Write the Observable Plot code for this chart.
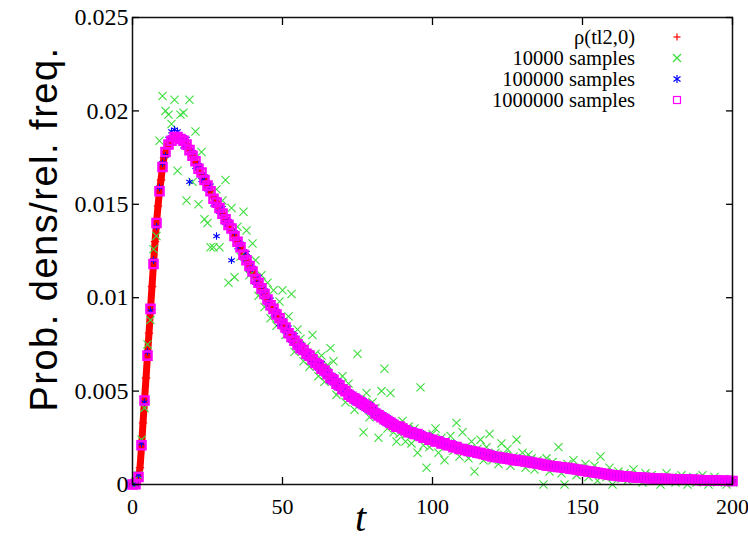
<!DOCTYPE html>
<html>
<head>
<meta charset="utf-8">
<script src="https://cdn.jsdelivr.net/npm/d3@7"></script>
<script src="https://cdn.jsdelivr.net/npm/@observablehq/plot@0.6"></script>
<style>
  html, body { margin: 0; padding: 0; background: #fff; }
  #wrap { position: relative; width: 748px; height: 542px; overflow: hidden; }
  #legend { position: absolute; top: 26px; right: 65px; font-family: "Liberation Serif", "Times New Roman", serif; font-size: 20.5px; color: #000; }
  #legend .row { display: flex; justify-content: flex-end; align-items: center; height: 21px; line-height: 20px; }
  #legend svg { margin-left: 36px; }
</style>
</head>
<body>
<div id="wrap"><div id="chart"></div><div id="legend"></div></div>
<script>
// ---- data ----
const xTicks = [0, 50, 100, 150, 200];
const xTickLabels = ["0", "50", "100", "150", "200"];
const yTicks = [0, 0.005, 0.01, 0.015, 0.02, 0.025];
const yTickLabels = ["0", "0.005", "0.01", "0.015", "0.02", "0.025"];

const seriesNames = ["ρ(tl2,0)", "10000 samples", "100000 samples", "1000000 samples"];

// exact density rho(t|2,0)
const rhoT = [0,0.5,1,1.5,2,2.5,3,3.5,4,4.5,5,5.5,6,6.5,7,7.5,8,8.5,9,9.5,
  10,10.5,11,11.5,12,12.5,13,13.5,14,14.5,15,15.5,16,17,18,19,20,
  22,24,26,28,30,32,34,36,38,40,42,44,46,48,50,
  55,60,65,70,75,80,85,90,95,100,
  110,120,130,140,150,160,170,180,190,200];
const rhoV = [0,0,0,0.00005,0.0003,0.0009,0.0020,0.0033,0.0045,0.0057,
  0.0069,0.0081,0.0094,0.0106,0.0118,0.0130,0.0140,0.0149,0.0157,0.0163,
  0.0170,0.0175,0.0178,0.0180,0.0182,0.0183,0.0184,0.0185,0.0186,0.0186,
  0.0186,0.0186,0.0185,0.0184,0.0182,0.0179,0.0176,
  0.0169,0.0163,0.0157,0.0151,0.0145,0.0139,0.0133,0.0127,0.0120,0.0114,0.0108,0.0102,0.0096,0.0091,0.0086,
  0.0075,0.0067,0.0059,0.0051,0.0045,0.0040,0.0034,0.0030,0.0027,0.0024,
  0.0019,0.0015,0.0013,0.00098,0.00075,0.0005,0.00036,0.00028,0.00023,0.00019];

// histogram bin positions t = 0..200
const binT = d3.range(0, 201);

// relative frequencies, 10000 samples
const freq1e4 = [0,
  0,0.0005,0.0024,0.0041,0.0075,0.0088,0.0126,0.0133,0.0184,0.0208,
  0.0200,0.0198,0.0193,0.0206,0.0168,0.0198,0.0199,0.0152,0.0206,0.0162,
  0.0189,0.0150,0.0178,0.0142,0.0140,0.0127,0.0127,0.0158,0.0127,0.0152,
  0.0163,0.0108,0.0148,0.0111,0.0138,0.0122,0.0146,0.0136,0.0112,0.0129,
  0.0120,0.0101,0.0112,0.0095,0.0108,0.0089,0.0104,0.0085,0.0098,0.0104,
  0.0080,0.0090,0.0102,0.0071,0.0083,0.0078,0.0066,0.0074,0.0063,0.0080,
  0.0070,0.0058,0.0069,0.0055,0.0064,0.0073,0.0066,0.0048,0.0050,0.0058,
  0.0044,0.0054,0.0047,0.0040,0.0070,0.0045,0.0028,0.0049,0.0036,0.0044,
  0.0041,0.0025,0.0050,0.0062,0.0030,0.0049,0.0028,0.0023,0.0027,0.0034,
  0.0023,0.0031,0.0022,0.0030,0.0017,0.0052,0.0021,0.0009,0.0020,0.0027,
  0.0030,0.0017,0.0025,0.0013,0.0022,0.0026,0.0018,0.0033,0.0015,0.0028,
  0.0020,0.0014,0.0023,0.0007,0.0019,0.0024,0.0013,0.0020,0.0027,0.0013,
  0.0017,0.0011,0.0022,0.0016,0.0019,0.0010,0.0015,0.0024,0.0012,0.0017,
  0.0009,0.0016,0.0014,0.0008,0.0013,0.0011,0,0.0014,0.0007,0.0012,
  0.0009,0.0020,0.0006,0,0.0011,0.0008,0.0013,0.0005,0.0009,0.0007,
  0.0011,0.0004,0.0008,0.0010,0.0002,0.0015,0.0006,0.0004,0.0009,0,
  0.0005,0.0007,0.0003,0.0006,0.0002,0.0005,0.0008,0.0003,0.0004,0.0001,
  0.0006,0.0003,0.0005,0.0002,0.0004,0,0.0003,0.0006,0.0002,0.0004,
  0.0001,0.0003,0.0005,0.0002,0,0.0003,0.0004,0.0001,0.0002,0.0005,
  0.0003,0,0.0002,0.0004,0.0001,0.0002,0.0003,0,0.0002,0.0001];

// relative frequencies, 100000 samples
const freq1e5 = [0,
  0.00001,0.0005,0.0022,0.0044,0.0071,0.0093,0.0120,0.0138,0.0159,0.0172,
  0.0176,0.0185,0.0189,0.0190,0.0189,0.0186,0.0181,0.0185,0.0162,0.0178,
  0.0170,0.0171,0.0163,0.0165,0.0158,0.0160,0.0150,0.0133,0.0146,0.0148,
  0.0140,0.0141,0.0120,0.0135,0.0127,0.0129,0.0121,0.0124,0.0115,0.0116,
  0.0108,0.0111,0.0103,0.0104,0.0097,0.0099,0.0091,0.0093,0.0086,0.0088,
  0.0082,0.0084,0.0077,0.0080,0.0073,0.0075,0.0071,0.0068,0.0070,0.0065,
  0.0066,0.0062,0.0065,0.0059,0.0061,0.0055,0.0058,0.0052,0.0055,0.0050,
  0.0051,0.0047,0.0049,0.0044,0.0047,0.0042,0.0045,0.0040,0.0043,0.0038,
  0.0040,0.0036,0.0038,0.0033,0.0036,0.0032,0.0034,0.0030,0.0032,0.0029,
  0.0030,0.0027,0.0029,0.0026,0.0028,0.0025,0.0027,0.0024,0.0026,0.0023,
  0.0024,0.0022,0.0024,0.0021,0.0022,0.0020,0.0022,0.0019,0.0020,0.0018,
  0.0019,0.0017,0.0019,0.0017,0.0018,0.0016,0.0017,0.0015,0.0017,0.0014,
  0.0016,0.0014,0.0015,0.0013,0.0015,0.0013,0.0014,0.0012,0.0014,0.0012,
  0.0013,0.0011,0.0013,0.0011,0.0012,0.0010,0.0011,0.00095,0.0011,0.00092,
  0.0010,0.00088,0.00098,0.00084,0.00094,0.0008,0.00089,0.00075,0.00084,0.0007,
  0.00078,0.00066,0.00072,0.00061,0.00067,0.00057,0.00062,0.00052,0.00058,0.00047,
  0.00052,0.00043,0.00048,0.0004,0.00046,0.00037,0.00042,0.00035,0.0004,0.00033,
  0.00037,0.00031,0.00036,0.00029,0.00034,0.00027,0.00032,0.00026,0.00031,0.00025,
  0.0003,0.00024,0.00029,0.00023,0.00028,0.00022,0.00027,0.00021,0.00026,0.0002,
  0.00025,0.00019,0.00024,0.00018,0.00023,0.00018,0.00022,0.00017,0.00021,0.00017];

// relative frequencies, 1000000 samples
const freq1e6 = [0,
  0.00002,0.0004,0.0021,0.0045,0.0069,0.0094,0.0118,0.0140,0.0157,0.0170,
  0.0178,0.0182,0.0184,0.0186,0.0186,0.0185,0.0184,0.0182,0.0179,0.0176,
  0.0173,0.0169,0.0167,0.0163,0.0160,0.0157,0.0153,0.0151,0.0148,0.0145,
  0.0142,0.0139,0.0137,0.0133,0.0130,0.0127,0.0123,0.0120,0.0117,0.0114,
  0.0110,0.0108,0.0105,0.0102,0.0099,0.0096,0.0094,0.0091,0.0089,0.0086,
  0.0084,0.0081,0.0079,0.0077,0.0075,0.0073,0.0072,0.0070,0.0069,0.0067,
  0.0065,0.0064,0.0062,0.0061,0.0059,0.0057,0.0056,0.0054,0.0053,0.0051,
  0.0050,0.0048,0.0047,0.0046,0.0045,0.0044,0.0043,0.0042,0.0041,0.0040,
  0.0038,0.0037,0.0036,0.0035,0.0034,0.0033,0.0032,0.0031,0.0031,0.0030,
  0.0029,0.0028,0.0028,0.0027,0.0027,0.0026,0.0025,0.0025,0.0024,0.0024,
  0.0023,0.0023,0.0022,0.0022,0.0021,0.0021,0.0020,0.0020,0.0019,0.0019,
  0.00185,0.0018,0.00178,0.00175,0.0017,0.00168,0.00163,0.0016,0.00155,0.0015,
  0.00148,0.00146,0.00143,0.0014,0.00138,0.00135,0.00132,0.0013,0.00128,0.00126,
  0.00123,0.0012,0.00118,0.00115,0.00112,0.0011,0.00106,0.00102,0.001,0.00098,
  0.00096,0.00094,0.00092,0.0009,0.00088,0.00085,0.00083,0.0008,0.00078,0.00075,
  0.00072,0.0007,0.00068,0.00065,0.00063,0.0006,0.00058,0.00055,0.00052,0.0005,
  0.00048,0.00046,0.00044,0.00043,0.00042,0.0004,0.00039,0.00038,0.00037,0.00036,
  0.00035,0.00034,0.00033,0.00032,0.00031,0.0003,0.0003,0.00029,0.00029,0.00028,
  0.00028,0.00027,0.00027,0.00026,0.00026,0.00025,0.00025,0.00024,0.00024,0.00023,
  0.00023,0.00022,0.00022,0.00021,0.00021,0.0002,0.0002,0.0002,0.00019,0.00019];

const colors = ["#ff0000", "#3ddd3d", "#0000ff", "#ff00ff"];

// ---- build tables ----
const rhoData = rhoT.map((t, i) => ({t, v: rhoV[i]}));
const h4 = binT.map((t, i) => ({t, v: freq1e4[i]}));
const h5 = binT.map((t, i) => ({t, v: freq1e5[i]}));
const h6 = binT.map((t, i) => ({t, v: freq1e6[i]}));

const serif = '"Liberation Serif", "Times New Roman", serif';
const sans = '"Liberation Sans", Arial, Helvetica, sans-serif';

const chart = Plot.plot({
  width: 748,
  height: 542,
  marginTop: 17,
  marginBottom: 58,
  marginLeft: 132,
  marginRight: 16,
  style: {fontFamily: serif, fontSize: "21px", color: "#000", background: "#fff", overflow: "visible"},
  x: {domain: [0, 200]},
  y: {domain: [0, 0.025]},
  marks: [
    // density curve drawn as a dense band of + marks
    Plot.line(rhoData, {x: "t", y: "v", stroke: colors[0], strokeWidth: 7, curve: "linear"}),
    Plot.dot(rhoData, {x: "t", y: "v", symbol: "plus", stroke: colors[0], fill: "none", r: 2.8, strokeWidth: 1.3}),
    Plot.dot(h4, {x: "t", y: "v", symbol: "times", stroke: colors[1], fill: "none", r: 3.8, strokeWidth: 1.1}),
    Plot.dot(h5, {x: "t", y: "v", symbol: "asterisk", stroke: colors[2], fill: "none", r: 3.5, strokeWidth: 1.1}),
    Plot.dot(h6, {x: "t", y: "v", symbol: "square2", stroke: colors[3], fill: "none", r: 5.2, strokeWidth: 2.4}),
    Plot.frame({stroke: "#111", strokeWidth: 1.5}),
    Plot.axisX(xTicks, {anchor: "bottom", tickSize: -7, tickPadding: 21, tickFormat: (d, i) => xTickLabels[i], fontSize: 22, fontFamily: serif, label: null, strokeWidth: 1.3}),
    Plot.axisX(xTicks, {anchor: "top", tickSize: -7, tickFormat: () => "", label: null, strokeWidth: 1.3}),
    Plot.axisY(yTicks, {anchor: "left", tickSize: -7, tickPadding: 11, tickFormat: (d, i) => yTickLabels[i], fontSize: 24, fontFamily: serif, label: null, strokeWidth: 1.3}),
    Plot.axisY(yTicks, {anchor: "right", tickSize: -7, tickFormat: () => "", label: null, strokeWidth: 1.3}),
    Plot.text(["Prob. dens/rel. freq."], {frameAnchor: "left", textAnchor: "middle", lineAnchor: "middle", rotate: -90, dx: -88, dy: -22, fontSize: 38, fontFamily: sans, fill: "#000"}),
    Plot.text(["t"], {frameAnchor: "bottom", textAnchor: "middle", lineAnchor: "middle", dx: -72, dy: 34, fontSize: 40, fontStyle: "italic", fontFamily: serif, fill: "#000"})
  ]
});
document.getElementById("chart").appendChild(chart);
d3.select(chart).selectAll("text").filter(function () { return this.textContent === "Prob. dens/rel. freq."; })
  .style("letter-spacing", "1.5px");

// ---- legend (HTML overlay) ----
const symbolSvg = [
  '<line x1="6" y1="2.5" x2="6" y2="9.5"/><line x1="2.5" y1="6" x2="9.5" y2="6"/>',
  '<line x1="2" y1="2" x2="10" y2="10"/><line x1="2" y1="10" x2="10" y2="2"/>',
  '<line x1="6" y1="2" x2="6" y2="10"/><line x1="2.5" y1="3.5" x2="9.5" y2="8.5"/><line x1="2.5" y1="8.5" x2="9.5" y2="3.5"/>',
  '<rect x="2.5" y="2.5" width="7" height="7" fill="none"/>'
];
const legend = document.getElementById("legend");
seriesNames.forEach((name, i) => {
  const row = document.createElement("div");
  row.className = "row";
  row.innerHTML = `<span>${name}</span><svg width="12" height="12" viewBox="0 0 12 12" stroke="${colors[i]}" stroke-width="1.2" fill="none">${symbolSvg[i]}</svg>`;
  legend.appendChild(row);
});
</script>
</body>
</html>
